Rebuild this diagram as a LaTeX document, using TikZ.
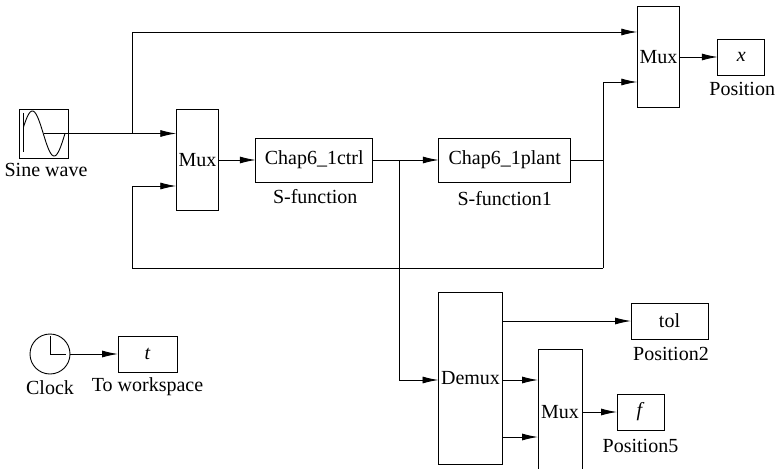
\documentclass[tikz,border=0pt]{standalone}
\usepackage{fontspec}
\setmainfont{Liberation Serif}
\usetikzlibrary{positioning, arrows.meta}

\begin{document}
\begin{tikzpicture}[
    x=1pt, y=-1pt,
    font=\fontsize{20}{22}\selectfont,
    blockbox/.style={
        rectangle,
        draw,
        line width=0.9pt,
        inner sep=0pt,
        outer sep=0pt,
        minimum height=36pt
    },
    muxbox/.style={blockbox, minimum width=42.5pt, minimum height=101pt},
    caption/.style={inner sep=0pt},
    edge/.style={line width=0.9pt, -{Latex[length=16pt,width=7pt]}},
    wire/.style={line width=0.9pt}
]
\clip (0,0) rectangle (778,468);
\fill[white] (0,0) rectangle (778,468);

% top row
\node[blockbox, minimum width=49pt, minimum height=49pt] (sine) at (43.5,133.5) {};
\node[muxbox] (muxa) at (197.5,160) {Mux};
\node[blockbox, minimum width=117pt, minimum height=44pt] (ctrl) [right=37pt of muxa] {Chap6\_1ctrl};
\node[blockbox, minimum width=132pt, minimum height=44pt] (plant) [right=66pt of ctrl] {Chap6\_1plant};
\node[muxbox] (muxb) at (658.5,57) {Mux};
\node[blockbox, minimum width=47pt] (posx) [right=38pt of muxb] {\textit{x}};

% lower part
\node[blockbox, minimum width=64pt, minimum height=172pt] (demux) at (470.5,378) {Demux};
\node[blockbox, minimum width=77pt] (tol) at (669.5,321) {tol};
\node[blockbox, minimum width=44pt, minimum height=126pt] (muxc) at (560,412) {Mux};
\node[blockbox, minimum width=47pt] (posf) [right=35pt of muxc] {\textit{f}};
\node[circle, draw, line width=0.9pt, inner sep=0pt, outer sep=0pt, minimum size=40pt] (clock) at (50,354) {};
\node[blockbox, minimum width=59pt] (tout) [right=48pt of clock] {\textit{t}};

% captions
\node[caption] (sinelbl) [below=5pt of sine, xshift=2.5pt] {Sine wave};
\node[caption] (ctrllbl) [below=7pt of ctrl, xshift=1pt] {S-function};
\node[caption] (plantlbl) [below=9pt of plant] {S-function1};
\node[caption] (posxlbl) [below=7pt of posx, xshift=1pt] {Position};
\node[caption] (tollbl) [below=8pt of tol, xshift=1.5pt] {Position2};
\node[caption] (posflbl) [below=9pt of posf] {Position5};
\node[caption] (clocklbl) [below=6pt of clock] {Clock};
\node[caption] (toutlbl) [below=5pt of tout] {To workspace};

% corners of the wires
\coordinate (tapa) at (132,133.5);
\coordinate (tapb) at (132,32);
\coordinate (tapc) at (399,160);
\coordinate (tapd) at (399,380);
\coordinate (fba) at (603,160);
\coordinate (fbb) at (603,82);
\coordinate (fbc) at (603,268);
\coordinate (fbd) at (132,268);
\coordinate (fbe) at (132,186);

\draw[edge] (sine.center) -- (muxa.west |- sine.center);
\draw[edge] (tapa) -- (tapb) -- (muxb.west |- tapb);
\draw[edge] (muxa) -- (ctrl);
\draw[edge] (ctrl) -- (plant);
\draw[edge] (muxb) -- (posx);
\draw[wire] (plant) -- (fba);
\draw[edge] (fbc) -- (fbb) -- (muxb.west |- fbb);
\draw[edge] (fbc) -- (fbd) -- (fbe) -- (muxa.west |- fbe);
\draw[edge] (tapc) -- (tapd) -- (demux.west |- tapd);
\draw[edge] (demux.east |- tol) -- (tol);
\draw[edge] (demux.east |- tapd) -- (muxc.west |- tapd);
\coordinate (demuxlow) at (demux.east |- 0,437);
\draw[edge] (demuxlow) -- (muxc.west |- demuxlow);
\draw[edge] (muxc) -- (posf);
\draw[edge] (clock) -- (tout);

% icons
\draw[line width=0.9pt] (23.5,113) -- (23.5,152);
\draw[line width=0.9pt, smooth, samples=50, domain=23.5:65] plot (\x,{133.5-22.5*sin(360*(\x-21.5)/43.5)});
\draw[line width=0.9pt] (50,336) -- (clock.center) -- (66,354);
\end{tikzpicture}
\end{document}
